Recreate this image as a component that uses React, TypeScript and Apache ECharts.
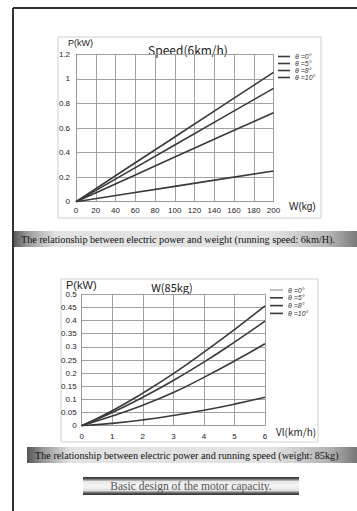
import React, { useEffect, useRef } from "react";
import * as echarts from "echarts";

const legendNames = ["θ =0°", "θ =5°", "θ =8°", "θ =10°"];

// Chart 1: power vs weight (speed 6 km/h)
const weights = [0, 50, 100, 150, 200];
const p1Theta0 = [0, 0.062, 0.125, 0.188, 0.25];
const p1Theta5 = [0, 0.181, 0.364, 0.545, 0.725];
const p1Theta8 = [0, 0.231, 0.462, 0.693, 0.923];
const p1Theta10 = [0, 0.264, 0.527, 0.79, 1.053];

// Chart 2: power vs speed (weight 85 kg)
const speeds = [0, 1, 2, 3, 4, 5, 6];
const p2Theta0 = [0, 0.009, 0.022, 0.039, 0.059, 0.082, 0.108];
const p2Theta5 = [0, 0.037, 0.078, 0.126, 0.184, 0.246, 0.312];
const p2Theta8 = [0, 0.05, 0.108, 0.172, 0.242, 0.318, 0.398];
const p2Theta10 = [0, 0.057, 0.124, 0.198, 0.28, 0.366, 0.456];

const pairs = (xs: number[], ys: number[]) => xs.map((x, i) => [x, ys[i]]);

export default function App() {
  const ref = useRef<HTMLDivElement>(null);
  useEffect(() => {
    if (!ref.current) return;
    const chart = echarts.init(ref.current, null, { renderer: "svg" });
    const lineColor = "#3a3a3a";
    const gridColor = "#a0a0a0";
    const labelFont = "Liberation Sans";
    const axisCommon = {
      axisTick: { show: false },
      axisLine: { show: true, lineStyle: { color: "#999", width: 1 } },
      splitLine: { show: true, lineStyle: { color: gridColor, width: 1 } },
      axisLabel: { fontSize: 8, color: "#222", fontFamily: labelFont },
    };
    const mkSeries = (name: string, data: number[][], xi: number, smooth: boolean) => ({
      name,
      type: "line",
      xAxisIndex: xi,
      yAxisIndex: xi,
      data,
      smooth: smooth ? 0.5 : false,
      symbol: "none",
      lineStyle: { color: lineColor, width: 1.6 },
      itemStyle: { color: lineColor },
    });
    const legendText = { fontSize: 7, fontStyle: "italic", color: "#333", fontFamily: labelFont, lineHeight: 7 };
    const hGrad = (stops: [number, string][]) =>
      new echarts.graphic.LinearGradient(0, 0, 1, 0, stops.map(([offset, color]) => ({ offset, color })));
    const vGrad = (stops: [number, string][]) =>
      new echarts.graphic.LinearGradient(0, 0, 0, 1, stops.map(([offset, color]) => ({ offset, color })));

    chart.setOption({
      animation: false,
      backgroundColor: "#ffffff",
      grid: [
        { left: 76, top: 54.3, width: 197.5, height: 147.4 },
        { left: 81.7, top: 294.3, width: 183.3, height: 131.4 },
      ],
      xAxis: [
        { ...axisCommon, type: "value", gridIndex: 0, min: 0, max: 200, interval: 20,
          axisLabel: { ...axisCommon.axisLabel, margin: 5 } },
        { ...axisCommon, type: "value", gridIndex: 1, min: 0, max: 6, interval: 1,
          axisLabel: { ...axisCommon.axisLabel, margin: 7 } },
      ],
      yAxis: [
        { ...axisCommon, type: "value", gridIndex: 0, min: 0, max: 1.2, interval: 0.2,
          axisLabel: { ...axisCommon.axisLabel, margin: 6 } },
        { ...axisCommon, type: "value", gridIndex: 1, min: 0, max: 0.5, interval: 0.05,
          axisLabel: { ...axisCommon.axisLabel, margin: 5 } },
      ],
      legend: [
        {
          orient: "vertical", left: 278, top: 53, icon: "rect", itemWidth: 12, itemHeight: 1.6,
          itemGap: 0, padding: 0, textStyle: legendText, selectedMode: false,
          data: legendNames,
        },
        {
          orient: "vertical", left: 270, top: 286.5, icon: "rect", itemWidth: 13, itemHeight: 1.6,
          itemGap: 0.8, padding: 0, textStyle: legendText, selectedMode: false,
          data: [
            { name: legendNames[0], itemStyle: { color: "#b0b0b0" } },
            legendNames[1], legendNames[2], legendNames[3],
          ],
        },
      ],
      series: [
        mkSeries(legendNames[0], pairs(weights, p1Theta0), 0, false),
        mkSeries(legendNames[1], pairs(weights, p1Theta5), 0, false),
        mkSeries(legendNames[2], pairs(weights, p1Theta8), 0, false),
        mkSeries(legendNames[3], pairs(weights, p1Theta10), 0, false),
        mkSeries(legendNames[0], pairs(speeds, p2Theta0), 1, true),
        mkSeries(legendNames[1], pairs(speeds, p2Theta5), 1, true),
        mkSeries(legendNames[2], pairs(speeds, p2Theta8), 1, true),
        mkSeries(legendNames[3], pairs(speeds, p2Theta10), 1, true),
      ],
      graphic: [
        // page frame
        { type: "line", shape: { x1: 13, y1: 8, x2: 357, y2: 8 }, style: { stroke: "#333", lineWidth: 2 }, z: 100 },
        { type: "line", shape: { x1: 13, y1: 8, x2: 13, y2: 511 }, style: { stroke: "#333", lineWidth: 2 }, z: 100 },
        // chart boxes
        { type: "rect", shape: { x: 58, y: 37, width: 263, height: 181 }, style: { fill: "none", stroke: "#d0d0d0", lineWidth: 1 }, z: -1 },
        { type: "rect", shape: { x: 61, y: 279, width: 257, height: 163 }, style: { fill: "none", stroke: "#d0d0d0", lineWidth: 1 }, z: -1 },
        // chart 1 texts
        { type: "text", left: 68, top: 38, style: { text: "P(kW)", fontSize: 9, fill: "#222", fontFamily: labelFont } },
        { type: "text", x: 188, y: 49, style: { text: "Speed(6km/h)", fontSize: 12, fill: "#222", fontFamily: "Noto Sans CJK JP", align: "center", verticalAlign: "middle" } },
        { type: "text", x: 289, y: 206, style: { text: "W(kg)", fontSize: 10, fill: "#222", fontFamily: labelFont, verticalAlign: "middle" } },
        // chart 2 texts
        { type: "text", left: 66, top: 279, style: { text: "P(kW)", fontSize: 11, fill: "#222", fontFamily: labelFont } },
        { type: "text", x: 172, y: 287, style: { text: "W(85kg)", fontSize: 11, fill: "#222", fontFamily: "Noto Sans CJK JP", align: "center", verticalAlign: "middle" } },
        { type: "text", x: 276, y: 431, style: { text: "Vl(km/h)", fontSize: 10, fill: "#222", fontFamily: "Noto Sans CJK JP", verticalAlign: "middle" } },
        // caption 1
        { type: "rect", shape: { x: 14, y: 231, width: 343, height: 16 },
          style: { fill: hGrad([[0, "#5a5a5a"], [0.04, "#9a9a9a"], [0.12, "#e2e2e2"], [0.75, "#e4e4e4"], [0.92, "#b4b4b4"], [1, "#7a7a7a"]]) } },
        { type: "text", x: 21, y: 239.5, style: { text: "The relationship between electric power and weight (running speed: 6km/H).", fontSize: 10.2, fill: "#111", fontFamily: "Liberation Serif", verticalAlign: "middle" } },
        // caption 2
        { type: "rect", shape: { x: 27, y: 447, width: 330, height: 16 },
          style: { fill: hGrad([[0, "#555"], [0.05, "#999"], [0.13, "#e2e2e2"], [0.75, "#e2e2e2"], [0.92, "#b0b0b0"], [1, "#777"]]) } },
        { type: "text", x: 35, y: 455.5, style: { text: "The relationship between electric power and running speed (weight: 85kg)", fontSize: 10.2, fill: "#111", fontFamily: "Liberation Serif", verticalAlign: "middle" } },
        // caption 3
        { type: "rect", shape: { x: 83, y: 477, width: 216, height: 18 },
          style: { fill: vGrad([[0, "#333"], [0.1, "#555"], [0.25, "#e8e8e8"], [0.5, "#f6f6f6"], [0.75, "#e0e0e0"], [0.9, "#555"], [1, "#333"]]) } },
        { type: "text", x: 191, y: 486, style: { text: "Basic design of the motor capacity.", fontSize: 11.5, fill: "#555", fontFamily: "Liberation Serif", align: "center", verticalAlign: "middle" } },
      ],
    });
    return () => chart.dispose();
  }, []);
  return <div ref={ref} style={{ position: "fixed", left: 0, top: 0, width: 357, height: 511 }} />;
}
